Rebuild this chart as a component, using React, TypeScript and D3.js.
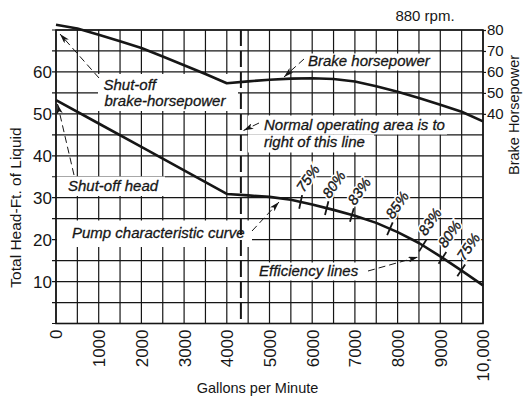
import React, { useEffect, useRef } from 'react'
import * as d3 from 'd3'

// axis ticks
const gpmTicks = [0, 1000, 2000, 3000, 4000, 5000, 6000, 7000, 8000, 9000, 10000]
const gpmTickLabels = ['0', '1000', '2000', '3000', '4000', '5000', '6000', '7000', '8000', '9000', '10,000']
const headTicks = [10, 20, 30, 40, 50, 60]
const hpTicks = [40, 50, 60, 70, 80]

// pump characteristic curve (total head, ft)
const headGpm = [0, 1000, 2000, 3000, 4000, 4500, 5000, 5500, 6000, 6500, 7000, 7500, 8000, 8500, 9000, 9500, 10000]
const headFt = [53.3, 47.7, 42.1, 36.5, 30.9, 30.55, 30.2, 29.5, 28.4, 27.1, 25.7, 24.0, 21.8, 19.2, 16.0, 12.6, 9.1]

// brake horsepower curve
const hpGpm = [0, 500, 1000, 1500, 2000, 2500, 3000, 3500, 4000, 4500, 5000, 5500, 6000, 6500, 7000, 7500, 8000, 8500, 9000, 9500, 10000]
const hpValues = [82.5, 80.7, 77.7, 74.6, 71.4, 67.4, 63.2, 59.0, 54.6, 55.5, 56.3, 56.8, 57.0, 56.6, 55.4, 53.2, 50.6, 47.6, 44.3, 41.0, 36.4]

// efficiency marks on the head curve
const effGpm = [5730, 6340, 6930, 7820, 8590, 9050, 9490]
const effLabels = ['75%', '80%', '83%', '85%', '83%', '80%', '75%']

const normalAreaGpm = 4330

const W = 523
const H = 396
const ink = '#161616'
const font = '"Liberation Sans", Arial, sans-serif'

export default function App() {
  const ref = useRef<SVGSVGElement>(null)

  useEffect(() => {
    const svg = d3.select(ref.current)
    svg.selectAll('*').remove()

    const x = d3.scaleLinear().domain([0, 10000]).range([56, 483])
    const y = d3.scaleLinear().domain([0, 70]).range([323.5, 30])
    // right axis: 10 hp per 5 ft of head, 80 hp at the top
    const yHp = d3.scaleLinear().domain([-60, 80]).range([323.5, 30])

    svg.append('rect').attr('width', W).attr('height', H).attr('fill', '#fff')

    svg.append('defs').append('marker')
      .attr('id', 'arr')
      .attr('viewBox', '0 0 10 6')
      .attr('refX', 10).attr('refY', 3)
      .attr('markerWidth', 10).attr('markerHeight', 6)
      .attr('markerUnits', 'userSpaceOnUse')
      .attr('orient', 'auto')
      .append('path').attr('d', 'M0,0 L10,3 L0,6 L2.5,3 Z').attr('fill', ink)

    // grid
    const grid = svg.append('g').attr('stroke', ink).attr('stroke-width', 1.2)
    grid.append('g').selectAll('line')
      .data(d3.range(0, 10001, 500))
      .join('line')
      .attr('x1', d => x(d)).attr('x2', d => x(d))
      .attr('y1', y(70)).attr('y2', y(0))
    grid.append('g').selectAll('line')
      .data(d3.range(0, 71, 5))
      .join('line')
      .attr('x1', 52).attr('x2', x(10000))
      .attr('y1', d => y(d)).attr('y2', d => y(d))

    // white label boxes over the grid
    const boxes = [
      [98, 74, 140, 37],
      [57, 176.5, 108, 19.5],
      [296, 53.5, 140, 17],
      [248, 115.5, 199, 19],
      [248, 134.5, 126, 18],
      [57, 220.5, 195, 26.5],
      [251, 262.5, 121, 18],
    ]
    svg.append('g').selectAll('rect')
      .data(boxes)
      .join('rect')
      .attr('x', d => d[0]).attr('y', d => d[1])
      .attr('width', d => d[2]).attr('height', d => d[3])
      .attr('fill', '#fff')

    // frame
    svg.append('rect')
      .attr('x', x(0)).attr('y', y(70))
      .attr('width', x(10000) - x(0)).attr('height', y(0) - y(70))
      .attr('fill', 'none').attr('stroke', ink).attr('stroke-width', 1.6)

    // normal operating area line
    svg.append('line')
      .attr('x1', x(normalAreaGpm)).attr('x2', x(normalAreaGpm))
      .attr('y1', y(70)).attr('y2', y(0))
      .attr('stroke', ink).attr('stroke-width', 2)
      .attr('stroke-dasharray', '16,5')

    // curves
    const headLine = d3.line<number>().x((_, i) => x(headGpm[i])).y(d => y(d))
    svg.append('path')
      .attr('d', headLine(headFt))
      .attr('fill', 'none').attr('stroke', ink).attr('stroke-width', 2.6)
      .attr('stroke-linejoin', 'round')

    const hpLine = d3.line<number>().x((_, i) => x(hpGpm[i])).y(d => yHp(d))
    svg.append('path')
      .attr('d', hpLine(hpValues))
      .attr('fill', 'none').attr('stroke', ink).attr('stroke-width', 2.6)
      .attr('stroke-linejoin', 'round')

    // efficiency ticks
    const headAt = d3.scaleLinear().domain(headGpm).range(headFt)
    const eff = effGpm.map((g, i) => {
      const px = x(g)
      const py = y(headAt(g))
      const dx = x(g + 100) - x(g - 100)
      const dy = y(headAt(g + 100)) - y(headAt(g - 100))
      const len = Math.hypot(dx, dy)
      return { px, py, nx: -dy / len, ny: dx / len, label: effLabels[i] }
    })
    const eg = svg.append('g')
    eg.selectAll('line')
      .data(eff)
      .join('line')
      .attr('x1', d => d.px - d.nx * 7).attr('y1', d => d.py - d.ny * 7)
      .attr('x2', d => d.px + d.nx * 7).attr('y2', d => d.py + d.ny * 7)
      .attr('stroke', ink).attr('stroke-width', 1.8)
    eg.selectAll('text.halo')
      .data(eff)
      .join('text')
      .attr('class', 'halo')
      .attr('transform', d => `translate(${d.px + 3},${d.py - 9}) rotate(-55)`)
      .attr('font-family', font).attr('font-style', 'italic').attr('font-size', 14.5)
      .attr('fill', '#fff')
      .attr('stroke', '#fff').attr('stroke-width', 3.5)
      .text(d => d.label)
    eg.selectAll('text.lbl')
      .data(eff)
      .join('text')
      .attr('class', 'lbl')
      .attr('transform', d => `translate(${d.px + 3},${d.py - 9}) rotate(-55)`)
      .attr('font-family', font).attr('font-style', 'italic').attr('font-size', 14.5)
      .attr('fill', ink).attr('stroke', ink).attr('stroke-width', 0.35)
      .text(d => d.label)

    // annotations
    const notes: [string, number, number][] = [
      ['Shut-off', 103.5, 89.5],
      ['brake-horsepower', 104.5, 106],
      ['Shut-off head', 68, 191],
      ['Brake horsepower', 308, 66],
      ['Normal operating area is to', 264, 130],
      ['right of this line', 264, 147],
      ['Pump characteristic curve', 72, 238],
      ['Efficiency lines', 259, 276],
    ]
    svg.append('g').selectAll('text')
      .data(notes)
      .join('text')
      .attr('x', d => d[1]).attr('y', d => d[2])
      .attr('font-family', font).attr('font-style', 'italic').attr('font-size', 15)
      .attr('fill', ink).attr('stroke', ink).attr('stroke-width', 0.3)
      .text(d => d[0])

    const arrows = [
      [99, 78, 60, 34],
      [74, 175, 57.5, 104],
      [304, 59, 284, 77],
      [259, 123, 243.5, 130.5],
      [252, 231, 279, 202],
      [368, 271, 418, 257],
    ]
    svg.append('g').selectAll('line')
      .data(arrows)
      .join('line')
      .attr('x1', d => d[0]).attr('y1', d => d[1])
      .attr('x2', d => d[2]).attr('y2', d => d[3])
      .attr('stroke', ink).attr('stroke-width', 1)
      .attr('stroke-dasharray', '7,4')
      .attr('marker-end', 'url(#arr)')

    // axes
    const left = svg.append('g')
      .attr('transform', `translate(${x(0)},0)`)
      .call(d3.axisLeft(y).tickValues(headTicks).tickSize(0).tickPadding(4))
    left.select('.domain').remove()
    left.selectAll('text').attr('font-family', font).attr('font-size', 17).attr('fill', ink)

    const right = svg.append('g')
      .attr('transform', `translate(${x(10000)},0)`)
      .call(d3.axisRight(yHp).tickValues(hpTicks).tickSize(3).tickPadding(1))
    right.select('.domain').remove()
    right.selectAll('line').attr('stroke', ink).attr('stroke-width', 1.2)
    right.selectAll('text').attr('font-family', font).attr('font-size', 15).attr('fill', ink)

    const bottom = svg.append('g')
      .attr('transform', `translate(0,${y(0)})`)
      .call(d3.axisBottom(x).tickValues(gpmTicks).tickSize(0)
        .tickFormat((_, i) => gpmTickLabels[i]))
    bottom.select('.domain').remove()
    bottom.selectAll('text')
      .attr('transform', 'rotate(-90)')
      .attr('x', -6).attr('y', 0).attr('dy', '0.35em')
      .attr('text-anchor', 'end')
      .attr('font-family', font).attr('font-size', 17).attr('fill', ink)

    // titles
    svg.append('text')
      .attr('transform', 'translate(20.5,207.5) rotate(-90)')
      .attr('text-anchor', 'middle')
      .attr('font-family', font).attr('font-size', 15.5).attr('fill', ink)
      .text('Total Head-Ft. of Liquid')
    svg.append('text')
      .attr('transform', 'translate(519,115) rotate(-90)')
      .attr('text-anchor', 'middle')
      .attr('font-family', font).attr('font-size', 14.5).attr('fill', ink)
      .text('Brake Horsepower')
    svg.append('text')
      .attr('x', 257.5).attr('y', 393)
      .attr('text-anchor', 'middle')
      .attr('font-family', font).attr('font-size', 14.5).attr('fill', ink)
      .text('Gallons per Minute')
    svg.append('text')
      .attr('x', 425).attr('y', 20.5)
      .attr('text-anchor', 'middle')
      .attr('font-family', font).attr('font-size', 15).attr('fill', ink)
      .text('880 rpm.')
  }, [])

  return (
    <svg ref={ref} width={W} height={H}
      style={{ position: 'absolute', left: 0, top: 0, display: 'block' }} />
  )
}
